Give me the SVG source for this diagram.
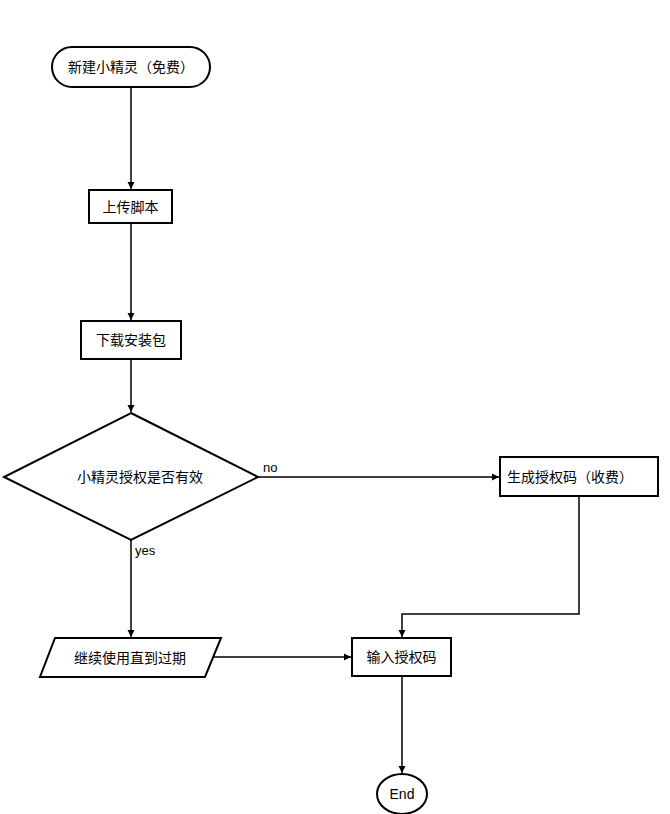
<svg xmlns="http://www.w3.org/2000/svg" width="670" height="814" viewBox="0 0 670 814">
<style>
.s{fill:#fff;stroke:#000;stroke-width:2}
.t{font-family:"Liberation Sans","Noto Sans CJK SC",sans-serif;font-size:14px;text-anchor:middle;dominant-baseline:central}
.c{fill:none;stroke:#000;stroke-width:1.5}
.l{font-family:"Liberation Sans","Noto Sans CJK SC",sans-serif;font-size:13px}
</style>
<defs><marker id="a" markerWidth="8" markerHeight="8" refX="7" refY="4" orient="auto" markerUnits="userSpaceOnUse"><path d="M0,0.5L7,4L0,7.5z"/></marker></defs>
<rect width="670" height="814" fill="#fff"/>
<g id="connectors">
<path class="c" d="M131,87V189" marker-end="url(#a)"/>
<path class="c" d="M131,223V320" marker-end="url(#a)"/>
<path class="c" d="M131,359V412" marker-end="url(#a)"/>
<path class="c" d="M258,477H499" marker-end="url(#a)"/>
<path class="c" d="M579,496V614H402V637" marker-end="url(#a)"/>
<path class="c" d="M131,540V637" marker-end="url(#a)"/>
<path class="c" d="M214,657H351" marker-end="url(#a)"/>
<path class="c" d="M402,676V773" marker-end="url(#a)"/>
<text class="l" x="263" y="472">no</text>
<text class="l" x="135" y="555">yes</text>
</g>
<g id="start"><rect class="s" x="52" y="47" width="158" height="40" rx="20"/><text class="t" x="131" y="67">新建小精灵（免费）</text></g>
<g id="upload"><rect class="s" x="89" y="190" width="83" height="33"/><text class="t" x="130.5" y="206.5">上传脚本</text></g>
<g id="download"><rect class="s" x="81" y="321" width="100" height="38"/><text class="t" x="131" y="340">下载安装包</text></g>
<g id="decision"><path class="s" d="M131,413L258,477L131,540L4,477Z"/><text class="t" x="140" y="477">小精灵授权是否有效</text></g>
<g id="gen"><rect class="s" x="500" y="457" width="158" height="39"/><text class="t" x="570" y="476.5">生成授权码（收费）</text></g>
<g id="continue"><path class="s" d="M55,638H221L205,677H40Z"/><text class="t" x="130" y="657.5">继续使用直到过期</text></g>
<g id="input"><rect class="s" x="352" y="638" width="99" height="38"/><text class="t" x="401.5" y="657">输入授权码</text></g>
<g id="end"><ellipse class="s" cx="402" cy="794" rx="25" ry="20"/><text class="t" x="402" y="794">End</text></g>
</svg>
